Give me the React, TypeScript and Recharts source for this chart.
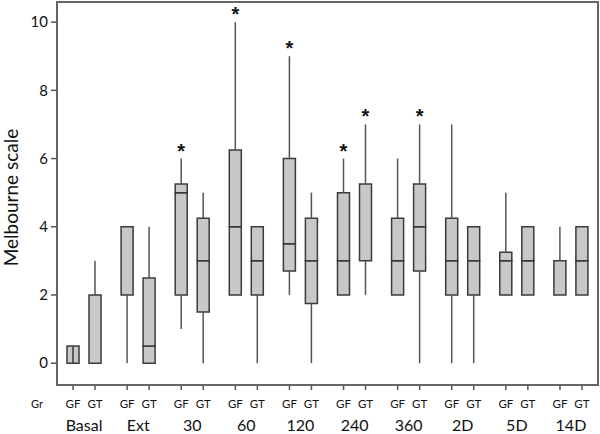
import React from 'react';
import { BarChart, Bar, XAxis, YAxis, ErrorBar, LabelList, ReferenceArea } from 'recharts';

const groups = ['Basal', 'Ext', '30', '60', '120', '240', '360', '2D', '5D', '14D'];
const yTicks = [0, 2, 4, 6, 8, 10];
const yDomain = [-0.64, 10.59];

// GF boxes
const gfMin = [0, 0, 1, 2, 2, 2, 2, 0, 2, 2];
const gfQ1 = [0, 2, 2, 2, 2.7, 2, 2, 2, 2, 2];
const gfMed = [0, 2, 5, 4, 3.5, 3, 3, 3, 3, 3];
const gfQ3 = [0.5, 4, 5.25, 6.25, 6, 5, 4.25, 4.25, 3.25, 3];
const gfMax = [0.5, 4, 6, 10, 9, 6, 6, 7, 5, 4];
const gfStar = [false, false, true, true, true, true, false, false, false, false];
const gfThrough = [true, false, false, false, false, false, false, false, false, false];

// GT boxes
const gtMin = [0, 0, 0, 0, 0, 2, 0, 0, 2, 2];
const gtQ1 = [0, 0, 1.5, 2, 1.75, 3, 2.7, 2, 2, 2];
const gtMed = [0, 0.5, 3, 3, 3, 3, 4, 3, 3, 3];
const gtQ3 = [2, 2.5, 4.25, 4, 4.25, 5.25, 5.25, 4, 4, 4];
const gtMax = [3, 4, 5, 4, 5, 7, 7, 4, 4, 4];
const gtStar = [false, false, false, false, false, true, true, false, false, false];
const gtThrough = [false, false, false, false, false, false, false, false, false, false];

const boxRow = (p: string, i: number, mn: number[], q1: number[], md: number[], q3: number[], mx: number[], st: boolean[], th: boolean[]) => ({
  [p + 'Base']: q1[i],
  [p + 'Low']: md[i] - q1[i],
  [p + 'High']: q3[i] - md[i],
  [p + 'Top']: mx[i] - q3[i],
  [p + 'WhiskLow']: [q1[i] - mn[i], 0],
  [p + 'WhiskHigh']: [mx[i] - q3[i], 0],
  [p + 'Inner']: [th[i] ? q3[i] - mn[i] : 0, 0],
  [p + 'Star']: st[i] ? '*' : '',
});

const data = groups.map((g, i) => ({
  group: g,
  ...boxRow('gf', i, gfMin, gfQ1, gfMed, gfQ3, gfMax, gfStar, gfThrough),
  ...boxRow('gt', i, gtMin, gtQ1, gtMed, gtQ3, gtMax, gtStar, gtThrough),
}));

const FONT = 'Lato, "Open Sans", sans-serif';
const LINE = '#555';
const BOX_FILL = '#c8c8c8';
const BOX_STROKE = '#3a3a3a';

const boxSeries = (p: string) => [
  <Bar key={p + 'b'} dataKey={p + 'Base'} stackId={p} fill="none" isAnimationActive={false}>
    <ErrorBar dataKey={p + 'WhiskLow'} direction="y" width={0} stroke={LINE} strokeWidth={1.5} isAnimationActive={false} />
  </Bar>,
  <Bar key={p + 'l'} dataKey={p + 'Low'} stackId={p} fill={BOX_FILL} stroke={BOX_STROKE} strokeWidth={1.5} isAnimationActive={false} />,
  <Bar key={p + 'h'} dataKey={p + 'High'} stackId={p} fill={BOX_FILL} stroke={BOX_STROKE} strokeWidth={1.5} isAnimationActive={false}>
    <ErrorBar dataKey={p + 'Inner'} direction="y" width={0} stroke={BOX_STROKE} strokeWidth={1.5} isAnimationActive={false} />
  </Bar>,
  <Bar key={p + 't'} dataKey={p + 'Top'} stackId={p} fill="none" isAnimationActive={false}>
    <ErrorBar dataKey={p + 'WhiskHigh'} direction="y" width={0} stroke={LINE} strokeWidth={1.5} isAnimationActive={false} />
    <LabelList dataKey={p + 'Star'} position="top" offset={1} fill="#111" fontSize={20} fontWeight="bold" fontFamily="'Liberation Sans', sans-serif" />
  </Bar>,
];

const GroupTick = (props: any) => {
  const { x, y, payload, index } = props;
  return (
    <g>
      {index === 0 && (
        <text x={x - 47} y={y + 23} textAnchor="middle" fontSize={11} fontFamily={FONT} fill="#111">Gr</text>
      )}
      {[-11, 11].map((dx, k) => (
        <g key={k}>
          <line x1={x + dx} x2={x + dx} y1={y} y2={y + 5} stroke={LINE} strokeWidth={1.5} />
          <text x={x + dx} y={y + 23} textAnchor="middle" fontSize={11.5} fontFamily={FONT} fill="#111">{k ? 'GT' : 'GF'}</text>
        </g>
      ))}
      <text x={x} y={y + 46} textAnchor="middle" fontSize={16} fontFamily={FONT} fill="#111">{payload.value}</text>
    </g>
  );
};

const YLabel = (props: any) => {
  const vb = props.viewBox || { x: 0, y: 2, height: 383 };
  const cx = vb.x + 18;
  const cy = vb.y + vb.height / 2 + 4;
  return (
    <text x={cx} y={cy} transform={`rotate(-90 ${cx} ${cy})`} textAnchor="middle" fontSize={19} fontFamily={FONT} fill="#111">
      Melbourne scale
    </text>
  );
};

export default function App() {
  return (
    <div style={{ width: 600, height: 434 }}>
      <style>{'body{margin:0}'}</style>
      <BarChart width={600} height={434} data={data} margin={{ top: 2, right: 2, left: 0, bottom: 0 }} barSize={12} barGap={10}>
        <XAxis dataKey="group" type="category" interval={0} axisLine={false} tickLine={false} tickSize={0} tickMargin={0} height={49} tick={(p: any) => <GroupTick {...p} />} />
        <YAxis
          type="number"
          domain={yDomain}
          ticks={yTicks}
          allowDataOverflow
          width={57}
          axisLine={false}
          tickLine={{ stroke: LINE, strokeWidth: 1.5 }}
          tickSize={6}
          tickMargin={3}
          tick={{ fill: '#111', fontSize: 15, fontFamily: FONT }}
          label={{ content: YLabel }}
        />
        {boxSeries('gf')}
        {boxSeries('gt')}
        <ReferenceArea y1={yDomain[0]} y2={yDomain[1]} fill="none" stroke="#666" strokeWidth={2} ifOverflow="visible" />
      </BarChart>
    </div>
  );
}
